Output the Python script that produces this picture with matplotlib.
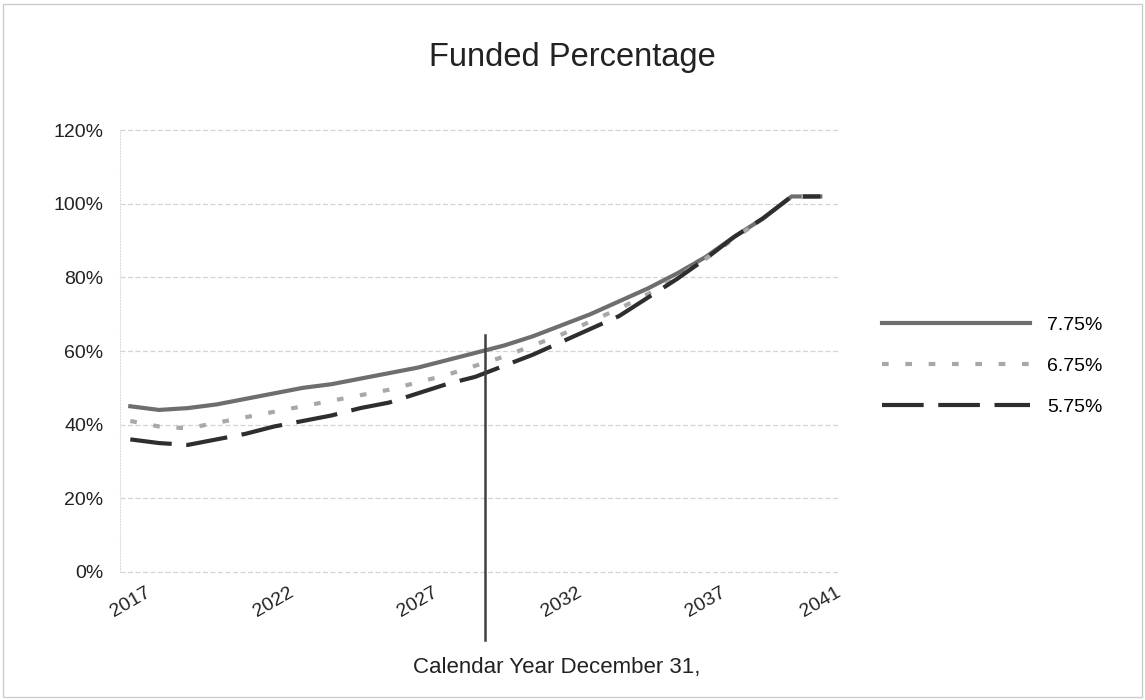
import numpy as np
import matplotlib.pyplot as plt
from matplotlib.ticker import FuncFormatter

plt.rcParams['font.family'] = ['Liberation Sans', 'DejaVu Sans']

# Данные
years = list(range(2017, 2042))
rate_775 = [45, 44, 44.5, 45.5, 47, 48.5, 50, 51, 52.5, 54, 55.5, 57.5, 59.5,
            61.5, 64, 67, 70, 73.5, 77, 81, 85.5, 91, 96, 102, 102]
rate_675 = [41, 39.5, 39, 40.5, 42, 43.5, 45, 46.5, 48, 49.5, 51.5, 53.5, 56,
            58.5, 61.5, 64.5, 68, 71.5, 75.5, 80, 85, 90.5, 96, 102, 102]
rate_575 = [36, 35, 34.5, 36, 37.5, 39.5, 41, 42.5, 44.5, 46, 48.5, 51, 53,
            56, 59, 62.5, 66, 69.5, 74.5, 79.5, 85, 91, 96, 102, 102]
xtick_years = [2017, 2022, 2027, 2032, 2037, 2041]
marker_year = 2029.35

fig = plt.figure(figsize=(11.45, 7.0), dpi=100)
ax = fig.add_axes([0.105, 0.183, 0.629, 0.631])

ax.plot(years, rate_775, color="#6e6e6e", lw=3.0, label="7.75%")
ax.plot(years, rate_675, color="#a8a8a8", lw=3.0, dashes=(1.6, 4.0), label="6.75%")
ax.plot(years, rate_575, color="#2e2e2e", lw=3.0, dashes=(10, 3.5), label="5.75%")

# вертикальная отметка
ax.axvline(marker_year, ymin=-0.154, ymax=0.536, color="#404040", lw=1.8, clip_on=False)

ax.set_xlim(2016.65, 2041.7)
ax.set_ylim(0, 120)
ax.set_yticks(np.arange(0, 121, 20))
ax.yaxis.set_major_formatter(FuncFormatter(lambda v, p: f"{v:.0f}%"))
ax.set_xticks(xtick_years)
ax.set_xticklabels([str(y) for y in xtick_years], rotation=30, ha="center")
ax.tick_params(axis="both", length=0, labelsize=14, colors="#222222")
ax.tick_params(axis="x", pad=9)
ax.tick_params(axis="y", pad=12)
ax.grid(axis="y", color="#d4d4d4", lw=0.9, ls=(0, (4, 2)), clip_on=False)
ax.set_axisbelow(True)
for s in ["top", "right", "bottom"]:
    ax.spines[s].set_visible(False)
ax.spines["left"].set_color("#dddddd")
ax.spines["left"].set_linestyle(":")

fig.text(0.5, 0.918, "Funded Percentage", ha="center", va="center",
         fontsize=23.5, color="#222222")
fig.text(0.486, 0.046, "Calendar Year December 31,", ha="center", va="center",
         fontsize=16, color="#222222")

fig.legend(loc="center left", bbox_to_anchor=(0.755, 0.477), frameon=False,
           fontsize=14, handlelength=7.6, handletextpad=0.9, labelspacing=1.2)

# рамка скана
fig.patches.append(plt.Rectangle((0.003, 0.005), 0.994, 0.99, transform=fig.transFigure,
                                 fill=False, ec="#cccccc", lw=1))

plt.savefig("out.png", dpi=100)
